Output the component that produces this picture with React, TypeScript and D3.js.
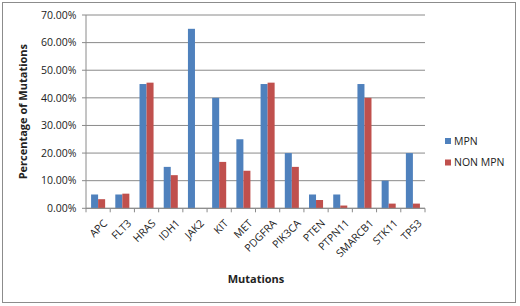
import React from "react";
import * as d3 from "d3";

const categories = ["APC", "FLT3", "HRAS", "IDH1", "JAK2", "KIT", "MET", "PDGFRA", "PIK3CA", "PTEN", "PTPN11", "SMARCB1", "STK11", "TP53"];
const mpn = [5, 5, 45, 15, 65, 40, 25, 45, 20, 5, 5, 45, 10, 20];
const nonMpn = [3.3, 5.3, 45.5, 12, 0, 16.8, 13.6, 45.5, 15, 3, 1, 40, 1.7, 1.7];
const yTicks = [0, 10, 20, 30, 40, 50, 60, 70];
const seriesNames = ["MPN", "NON MPN"];
const seriesColors = ["#4F81BD", "#C0504D"];

const W = 520, H = 306;
const left = 86, right = 425, top = 15, bottom = 208.3;
const font = "'Open Sans', 'Liberation Sans', sans-serif";

export default function App() {
  const x = d3.scaleBand<string>().domain(categories).range([left, right]).paddingInner(0).paddingOuter(0);
  const y = d3.scaleLinear().domain([0, 70]).range([bottom, top]);
  const bw = x.bandwidth();
  const barW = bw * 0.29;
  const series = [mpn, nonMpn];
  return (
    <svg width={W} height={H} style={{ position: "absolute", left: 0, top: 0 }} fontFamily={font}>
      <rect x={0} y={0} width={W} height={H} fill="#fff" />
      <rect x={2.5} y={2.5} width={513} height={300} fill="none" stroke="#8c8c8c" strokeWidth={1} />
      {yTicks.map((t) => (
        <g key={t}>
          <line x1={left - 4} x2={right} y1={y(t)} y2={y(t)} stroke="#8a8a8a" strokeWidth={1} />
          <text x={left - 9.5} y={y(t)} dy="0.35em" textAnchor="end" fontSize={10.5} fill="#222">
            {t.toFixed(2) + "%"}
          </text>
        </g>
      ))}
      <line x1={left} x2={left} y1={top} y2={bottom} stroke="#8a8a8a" />
      {categories.map((c, i) => {
        const cx = (x(c) as number) + bw / 2;
        return (
          <g key={c}>
            {series.map((s, k) => (
              <rect key={k} x={cx - barW + k * barW} y={y(s[i])} width={barW} height={bottom - y(s[i])} fill={seriesColors[k]} />
            ))}
          </g>
        );
      })}
      {categories.map((c, i) => (
        <line key={"t" + i} x1={x(c) as number} x2={x(c) as number} y1={bottom} y2={bottom + 4} stroke="#8a8a8a" />
      ))}
      <line x1={right} x2={right} y1={bottom} y2={bottom + 4} stroke="#8a8a8a" />
      <line x1={left} x2={right} y1={bottom} y2={bottom} stroke="#8a8a8a" />
      {categories.map((c) => {
        const cx = (x(c) as number) + bw / 2 + 6;
        const ty = bottom + 12;
        return (
          <text key={"l" + c} x={cx} y={ty} textAnchor="end" fontSize={10.5} fill="#222" dy="0.5em" transform={`rotate(-45 ${cx} ${ty})`}>
            {c}
          </text>
        );
      })}
      <text x={256} y={283} textAnchor="middle" fontSize={11} fontWeight="bold" fill="#222">Mutations</text>
      <text x={0} y={0} transform={`translate(27 ${(top + bottom) / 2}) rotate(-90)`} textAnchor="middle" fontSize={11} fontWeight="bold" fill="#222">
        Percentage of Mutations
      </text>
      {seriesNames.map((n, k) => (
        <g key={n}>
          <rect x={445} y={138 + k * 21.5} width={6} height={6} fill={seriesColors[k]} />
          <text x={454} y={141 + k * 21.5} dy="0.35em" fontSize={10.5} fill="#222">{n}</text>
        </g>
      ))}
    </svg>
  );
}
